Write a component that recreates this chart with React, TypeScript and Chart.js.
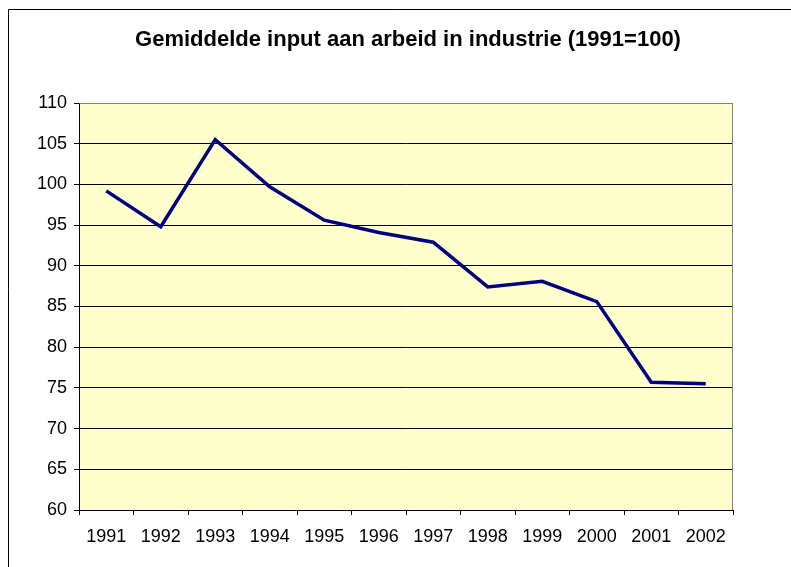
import React, { useEffect, useRef } from "react";
import { Chart, registerables } from "chart.js";

Chart.register(...registerables);

const titleText = "Gemiddelde input aan arbeid in industrie (1991=100)";
const years = ["1991", "1992", "1993", "1994", "1995", "1996", "1997", "1998", "1999", "2000", "2001", "2002"];
const values = [99.2, 94.8, 105.5, 99.7, 95.6, 94.1, 92.9, 87.4, 88.1, 85.6, 75.7, 75.5];
const yMin = 60;
const yMax = 110;
const yStep = 5;

const FONT = "'Liberation Sans', Arial, sans-serif";

const framePlugin = {
  id: "frame",
  beforeDraw(chart: any) {
    const { ctx, chartArea } = chart;
    ctx.save();
    ctx.fillStyle = "#FFFFCC";
    ctx.fillRect(chartArea.left, chartArea.top, chartArea.right - chartArea.left, chartArea.bottom - chartArea.top);
    ctx.strokeStyle = "#000000";
    ctx.lineWidth = 1;
    ctx.beginPath();
    ctx.moveTo(8.5, chart.height);
    ctx.lineTo(8.5, 9.5);
    ctx.lineTo(chart.width, 9.5);
    ctx.stroke();
    ctx.fillStyle = "#000000";
    ctx.font = `bold 22px ${FONT}`;
    ctx.textAlign = "center";
    ctx.textBaseline = "middle";
    ctx.fillText(titleText, 408, 40);
    ctx.restore();
  },
  afterDatasetsDraw(chart: any) {
    const { ctx, chartArea } = chart;
    ctx.save();
    ctx.strokeStyle = "#808080";
    ctx.lineWidth = 1;
    ctx.beginPath();
    ctx.moveTo(Math.round(chartArea.left) + 0.5, Math.round(chartArea.top) + 0.5);
    ctx.lineTo(Math.round(chartArea.right) - 0.5, Math.round(chartArea.top) + 0.5);
    ctx.lineTo(Math.round(chartArea.right) - 0.5, Math.round(chartArea.bottom));
    ctx.stroke();
    ctx.restore();
  },
};

export default function App() {
  const ref = useRef<HTMLCanvasElement>(null);
  useEffect(() => {
    if (!ref.current) return;
    const chart = new Chart(ref.current, {
      type: "line",
      data: {
        labels: years,
        datasets: [
          {
            data: values,
            borderColor: "#000080",
            backgroundColor: "#000080",
            borderWidth: 3.5,
            pointRadius: 0,
            tension: 0,
            fill: false,
          },
        ],
      },
      plugins: [framePlugin],
      options: {
        responsive: false,
        animation: false,
        devicePixelRatio: 1,
        layout: { padding: { left: 0, right: 58, top: 103, bottom: 0 } },
        plugins: {
          legend: { display: false },
          tooltip: { enabled: false },
          title: { display: false },
        },
        scales: {
          x: {
            offset: true,
            grid: {
              offset: true,
              drawOnChartArea: false,
              drawTicks: true,
              tickLength: 5,
              color: "#000000",
            },
            border: { display: true, color: "#000000", width: 1 },
            ticks: {
              color: "#000000",
              font: { family: FONT, size: 18 },
              padding: 11,
              maxRotation: 0,
              autoSkip: false,
            },
            afterFit(scale: any) {
              scale.height = 57;
            },
          },
          y: {
            min: yMin,
            max: yMax,
            grid: {
              color: (c: any) => (c.tick && c.tick.value === yMax ? "#808080" : "#000000"),
              tickColor: "#000000",
              tickLength: 5,
              lineWidth: 1,
            },
            border: { display: true, color: "#000000", width: 1 },
            ticks: {
              stepSize: yStep,
              color: "#000000",
              font: { family: FONT, size: 18 },
              padding: 7,
            },
            afterFit(scale: any) {
              scale.width = 79;
            },
          },
        },
      },
    });
    return () => chart.destroy();
  }, []);
  return (
    <div style={{ position: "absolute", left: 0, top: 0, width: 791, height: 567, background: "#ffffff" }}>
      <canvas ref={ref} width={791} height={567} style={{ display: "block" }} />
    </div>
  );
}
